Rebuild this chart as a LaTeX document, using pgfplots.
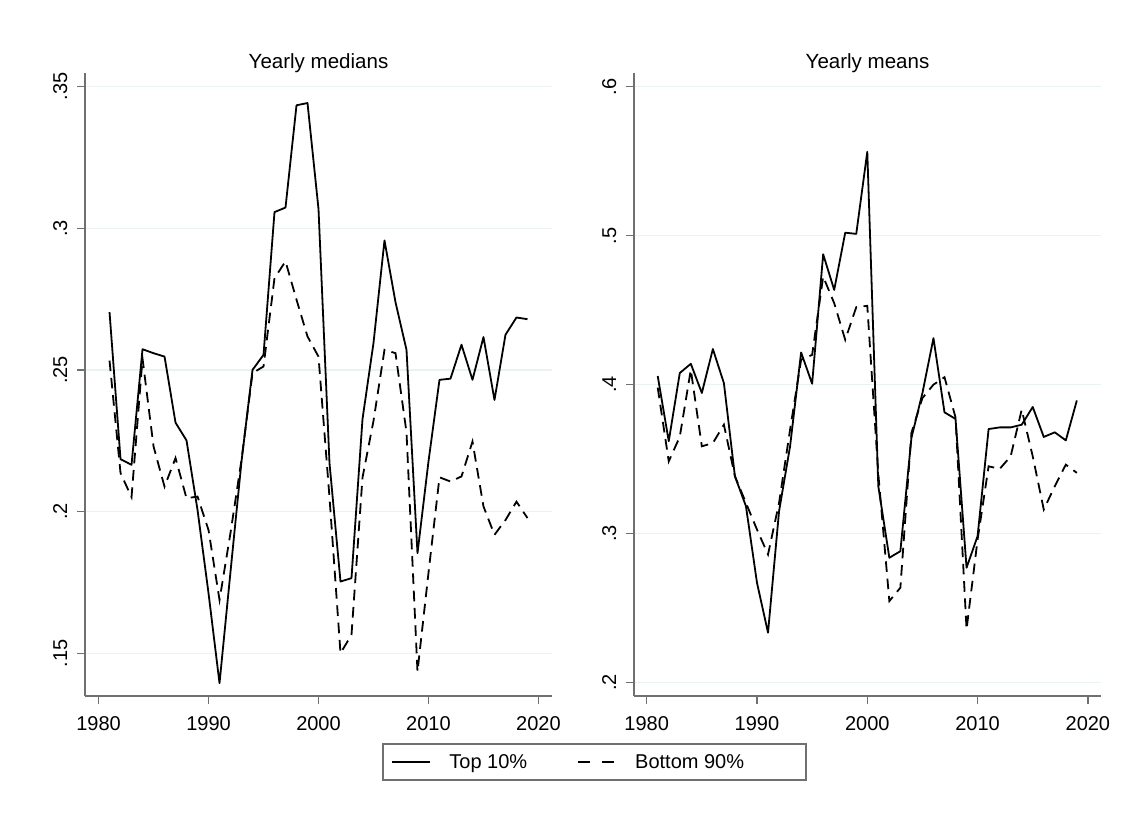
\documentclass[border=0pt]{standalone}
\usepackage{fontspec}
\setmainfont{Liberation Sans}
\usepackage{pgfplots}
\pgfplotsset{compat=1.18}
\usepackage{pgfplotstable}
\definecolor{gridc}{HTML}{EAF2F3}
\definecolor{axc}{HTML}{707070}

\pgfplotstableread{
year top bot
1981 0.2704 0.2533
1982 0.2185 0.2136
1983 0.2165 0.2051
1984 0.2573 0.2540
1985 0.2559 0.2230
1986 0.2547 0.2088
1987 0.2314 0.2189
1988 0.2251 0.2047
1989 0.2006 0.2053
1990 0.1712 0.1935
1991 0.1394 0.1688
1992 0.1788 0.1925
1993 0.2177 0.2183
1994 0.2500 0.2489
1995 0.2553 0.2512
1996 0.3057 0.2824
1997 0.3073 0.2883
1998 0.3434 0.2748
1999 0.3442 0.2618
2000 0.3068 0.2547
2001 0.2171 0.2050
2002 0.1753 0.1500
2003 0.1765 0.1565
2004 0.2326 0.2120
2005 0.2595 0.2320
2006 0.2957 0.2571
2007 0.2739 0.2559
2008 0.2571 0.2280
2009 0.1853 0.1435
2010 0.2177 0.1784
2011 0.2465 0.2121
2012 0.2469 0.2106
2013 0.2589 0.2124
2014 0.2465 0.2247
2015 0.2616 0.2018
2016 0.2394 0.1918
2017 0.2624 0.1970
2018 0.2685 0.2035
2019 0.2679 0.1977
}\medians

\pgfplotstableread{
year top bot
1981 0.4058 0.3980
1982 0.3620 0.3485
1983 0.4078 0.3650
1984 0.4140 0.4100
1985 0.3944 0.3586
1986 0.4239 0.3608
1987 0.4010 0.3731
1988 0.3385 0.3385
1989 0.3184 0.3206
1990 0.2670 0.3027
1991 0.2335 0.2860
1992 0.3150 0.3206
1993 0.3586 0.3698
1994 0.4216 0.4167
1995 0.4006 0.4200
1996 0.4875 0.4725
1997 0.4636 0.4547
1998 0.5020 0.4301
1999 0.5012 0.4520
2000 0.5563 0.4529
2001 0.3318 0.3400
2002 0.2838 0.2547
2003 0.2882 0.2637
2004 0.3642 0.3676
2005 0.3944 0.3910
2006 0.4312 0.4000
2007 0.3814 0.4050
2008 0.3770 0.3780
2009 0.2771 0.2357
2010 0.2983 0.2960
2011 0.3702 0.3452
2012 0.3713 0.3434
2013 0.3713 0.3519
2014 0.3731 0.3832
2015 0.3850 0.3519
2016 0.3649 0.3162
2017 0.3680 0.3318
2018 0.3626 0.3463
2019 0.3894 0.3408
}\means

\pgfplotsset{
  stata/.style={
    scale only axis,
    width=350.25pt, height=467.25pt,
    anchor=south west,
    axis lines*=left,
    axis line style={-, draw=axc, line width=1pt},
    tick align=outside,
    major tick length=6pt,
    tick style={draw=axc, line width=1pt},
    ymajorgrids,
    grid style={draw=gridc, line width=1pt},
    xtick={1980,1990,2000,2010,2020},
    minor tick num=0,
    font=\fontsize{15}{18}\selectfont,
    ticklabel style={font=\fontsize{15}{18}\selectfont},
    /pgf/number format/assume math mode=true,
    xticklabel style={/pgf/number format/set thousands separator={}, anchor=base, yshift=-19.75pt},
    yticklabel style={/pgf/number format/fixed, /pgf/number format/precision=2, /pgf/number format/skip 0.=true, xshift=-7.5pt, rotate=90, anchor=base},
    xmin=1978.77, xmax=2021.23,
    title style={font=\fontsize{15.4}{18}\selectfont, anchor=base, yshift=-3pt},
    clip=false,
  },
  solidl/.style={black, line width=1.35pt, line join=round},
  dashl/.style={black, line width=1.35pt, dash pattern=on 8pt off 5pt},
  dashleg/.style={legend image code/.code={\draw[##1, dash pattern=on 9.5pt off 8.5pt] (0pt,0pt) -- (28.7pt,0pt);}},
}

\begin{document}
\begin{tikzpicture}
\path[use as bounding box] (0,0) rectangle (855.75pt,621pt);
\begin{axis}[stata,
  at={(63.75pt,99pt)},
  title={Yearly medians},
  ymin=0.1349, ymax=0.3548,
  ytick={0.15,0.2,0.25,0.3,0.35},
  legend columns=2,
  legend cell align=left,
  legend style={at={(0.6353,-0.0759)}, anchor=north west, draw=axc, line width=1.5pt,
    inner xsep=6.2pt, inner ysep=7.5pt, font=\fontsize{15}{18}\selectfont,
    nodes={inner sep=0pt},
    /tikz/every odd column/.append style={column sep=13.8pt},
    /tikz/every even column/.append style={column sep=0pt}},
  legend image code/.code={\draw[#1] (0pt,0pt) -- (28.7pt,0pt);},
]
\addplot[solidl] table[x=year,y=top]{\medians};
\addlegendentry{\makebox[95.5pt][l]{Top 10\%}}
\addplot[dashl, dashleg] table[x=year,y=bot]{\medians};
\addlegendentry{\makebox[121.8pt][l]{Bottom 90\%}}
\end{axis}
\begin{axis}[stata,
  at={(475.5pt,99pt)},
  title={Yearly means},
  xmin=1978.85, xmax=2021.19,
  ymin=0.191, ymax=0.6092,
  ytick={0.2,0.3,0.4,0.5,0.6},
]
\addplot[solidl] table[x=year,y=top]{\means};
\addplot[dashl] table[x=year,y=bot]{\means};
\end{axis}
\end{tikzpicture}
\end{document}
